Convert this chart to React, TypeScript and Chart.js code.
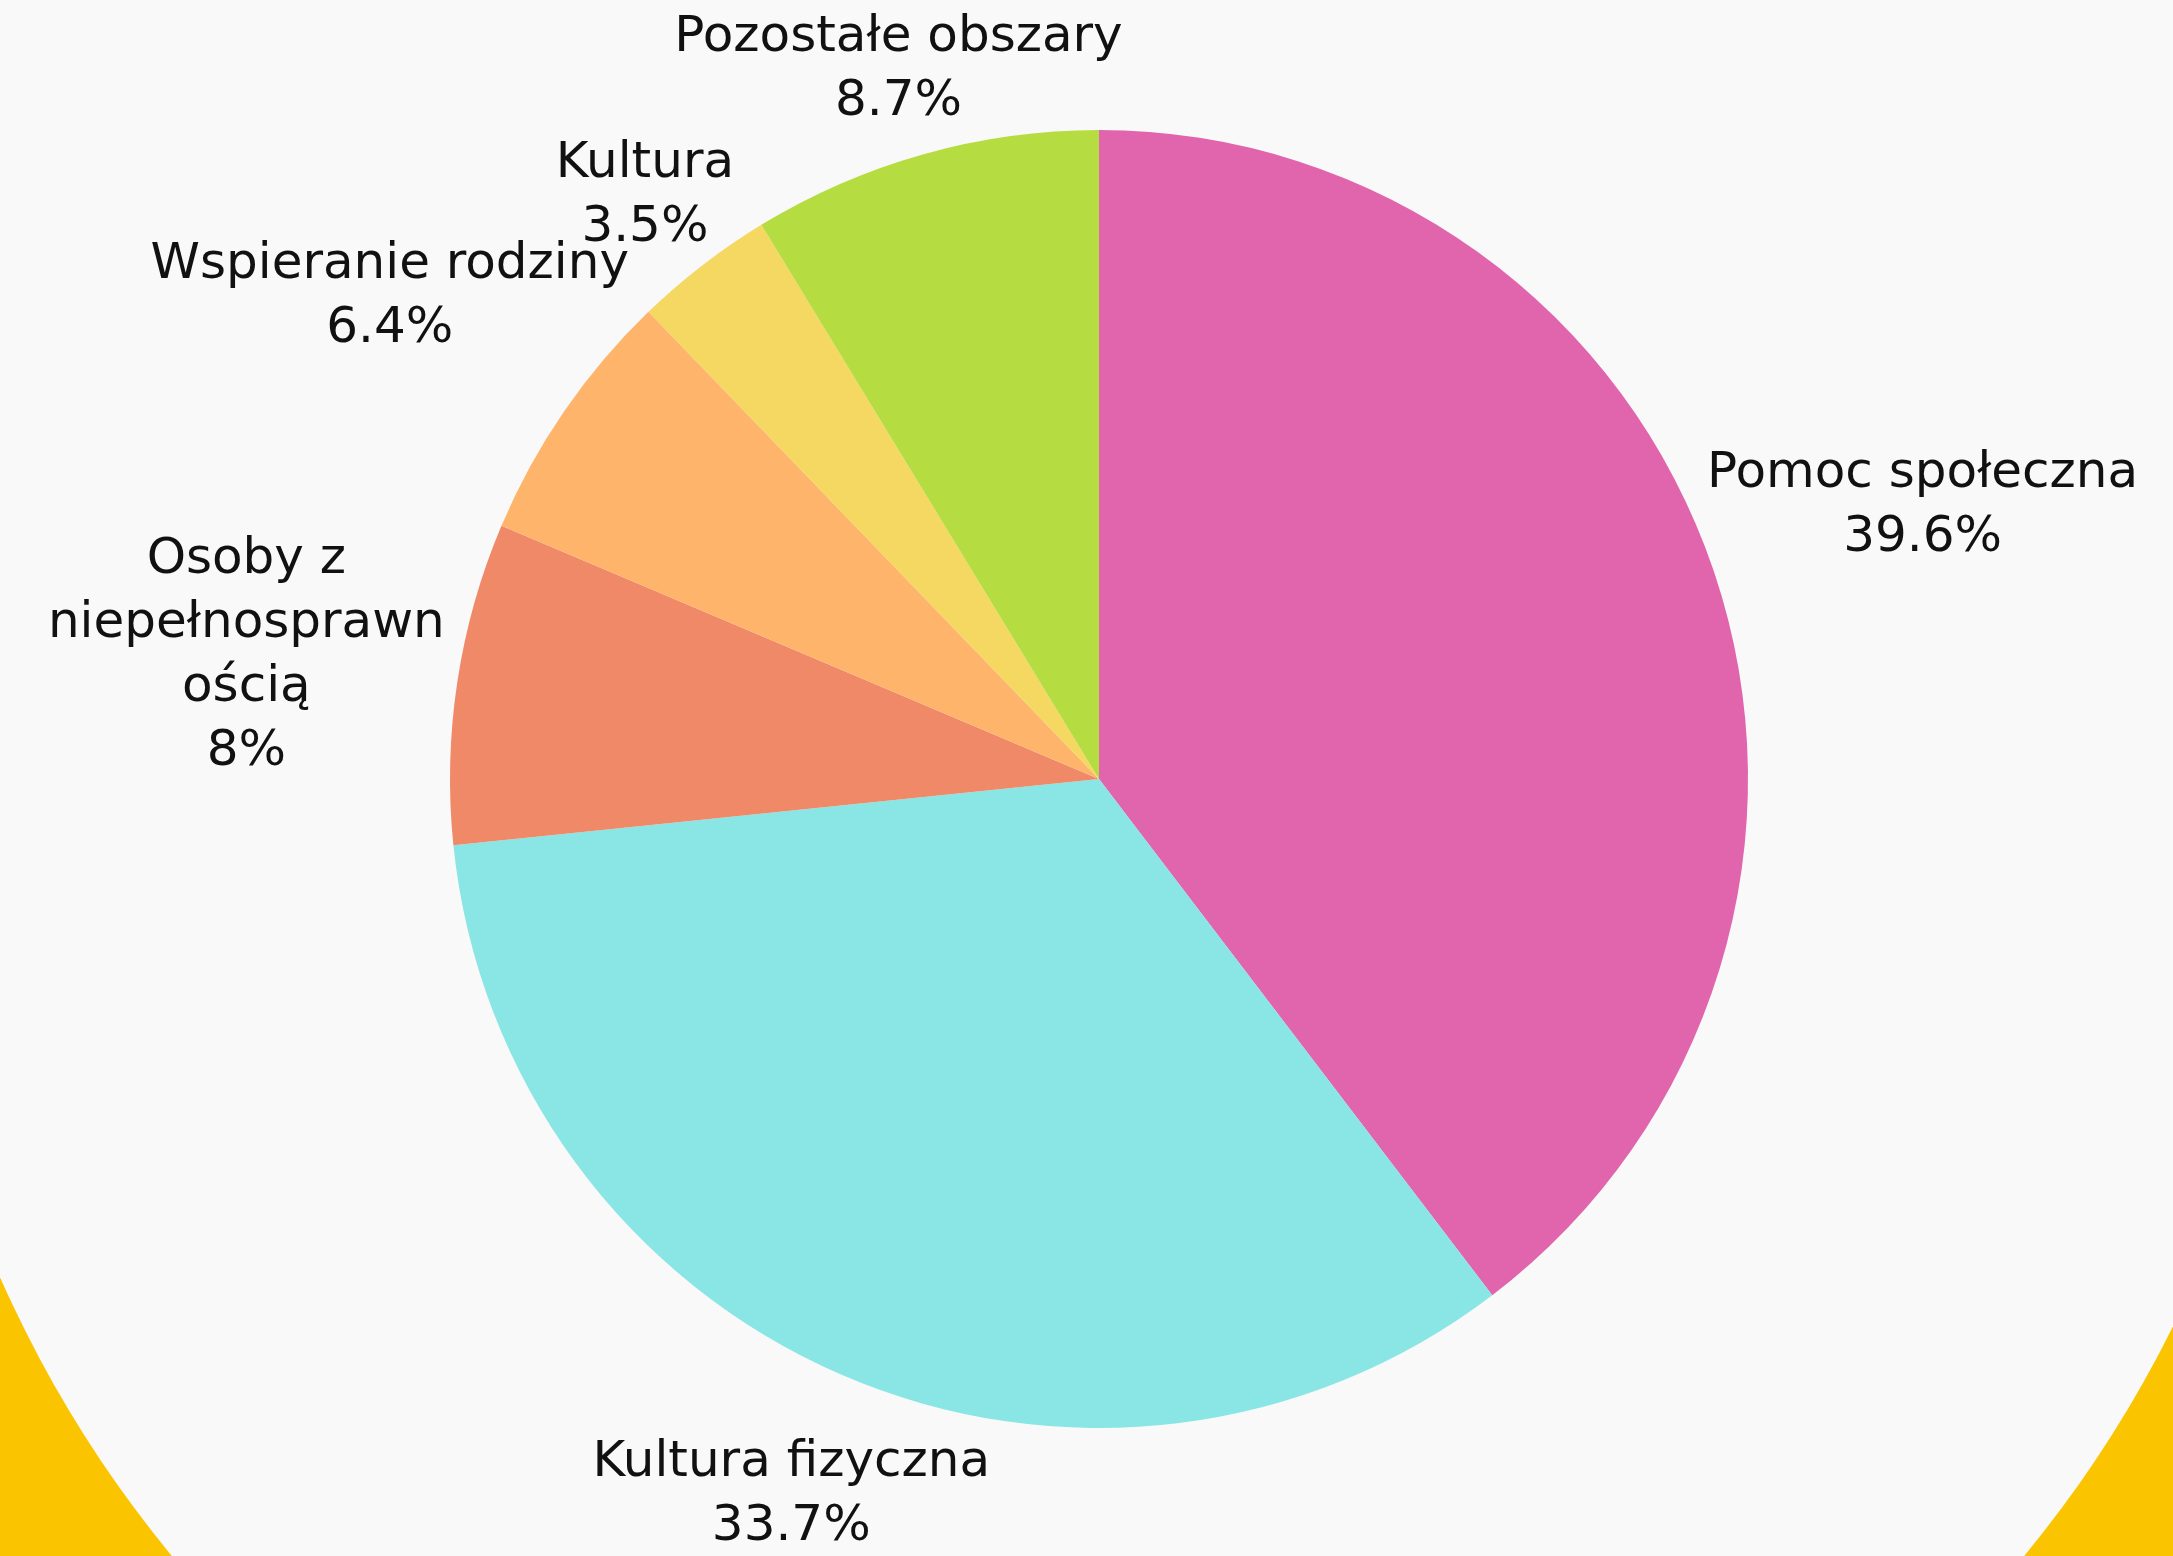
import React, { useEffect, useRef } from "react";
import { Chart, registerables } from "chart.js";

Chart.register(...registerables);

const categories: string[][] = [
  ["Pomoc społeczna"],
  ["Kultura fizyczna"],
  ["Osoby z", "niepełnosprawn", "ością"],
  ["Wspieranie rodziny"],
  ["Kultura"],
  ["Pozostałe obszary"],
];
const shares: number[] = [39.6, 33.7, 8, 6.4, 3.5, 8.7];
const sliceColors: string[] = ["#E065AD", "#8AE6E5", "#F08968", "#FFB46C", "#F5D862", "#B5DD41"];

const W = 2173;
const H = 1556;
const FONT_SIZE = 50;
const LINE_H = 64;
const FONT_FAMILY = "'DejaVu Sans', sans-serif";

const backgroundPlugin = {
  id: "bgCircle",
  beforeDraw(chart: any) {
    const ctx = chart.ctx;
    const cx = 1098;
    const cy = 793;
    ctx.save();
    ctx.fillStyle = "#FBC400";
    ctx.fillRect(0, 0, chart.width, chart.height);
    ctx.fillStyle = "#F9F9F9";
    ctx.fillRect(0, 0, chart.width, cy);
    ctx.beginPath();
    ctx.arc(cx, cy, 1200, 0, Math.PI * 2);
    ctx.fill();
    ctx.restore();
  },
};

const outsideLabels = {
  id: "outsideLabels",
  afterDatasetsDraw(chart: any) {
    const ctx = chart.ctx;
    const meta = chart.getDatasetMeta(0);
    ctx.save();
    ctx.font = `${FONT_SIZE}px ${FONT_FAMILY}`;
    const capH = FONT_SIZE * 0.73;
    const boxes: any[] = [];
    meta.data.forEach((arc: any, i: number) => {
      const p = arc.getProps(["x", "y", "startAngle", "endAngle", "outerRadius"], true);
      const mid = (p.startAngle + p.endAngle) / 2;
      const dx = Math.cos(mid);
      const dy = Math.sin(mid);
      const lines = [...categories[i], `${shares[i]}%`];
      const w = Math.max(...lines.map((l) => ctx.measureText(l).width));
      const h = capH + (lines.length - 1) * LINE_H;
      const ext = Math.abs(dx) * w / 2 + Math.abs(dy) * h / 2;
      const dist = p.outerRadius + ext;
      boxes.push({ lines, w, h, dx, dy, dist, ox: p.x, oy: p.y });
    });
    const pos = (b: any) => ({ cx: b.ox + b.dx * b.dist, cy: b.oy + b.dy * b.dist });
    const rect = (b: any) => {
      const { cx, cy } = pos(b);
      return { l: cx - b.w / 2, r: cx + b.w / 2, t: cy - b.h / 2, btm: cy + b.h / 2 };
    };
    const margin = 14;
    boxes.forEach((b) => {
      for (let k = 0; k < 200; k++) {
        const r = rect(b);
        if (r.t < margin || r.btm > H - margin || r.l < margin || r.r > W - margin) b.dist -= 1;
        else break;
      }
    });
    for (let iter = 0; iter < 3; iter++) {
      for (let i = 0; i < boxes.length; i++) {
        for (let j = i + 1; j < boxes.length; j++) {
          const a = boxes[i];
          const c = boxes[j];
          const mover = a.w * a.h > c.w * c.h ? a : c;
          for (let k = 0; k < 120; k++) {
            const ra = rect(a);
            const rc = rect(c);
            const ov = ra.l < rc.r && rc.l < ra.r && ra.t < rc.btm && rc.t < ra.btm;
            if (!ov) break;
            mover.dist -= 1;
          }
        }
      }
    }
    ctx.fillStyle = "#111111";
    ctx.textAlign = "center";
    ctx.textBaseline = "alphabetic";
    boxes.forEach((b) => {
      const { cx, cy } = pos(b);
      const top = cy - b.h / 2;
      b.lines.forEach((line: string, li: number) => {
        ctx.fillText(line, cx, top + capH + li * LINE_H);
      });
    });
    ctx.restore();
  },
};

export default function App() {
  const ref = useRef<HTMLCanvasElement>(null);
  useEffect(() => {
    document.body.style.margin = "0";
    const canvas = ref.current!;
    const chart = new Chart(canvas, {
      type: "pie",
      data: {
        labels: categories.map((c) => c.join("")),
        datasets: [
          {
            data: shares,
            backgroundColor: sliceColors,
            borderWidth: 0,
          },
        ],
      },
      options: {
        responsive: false,
        animation: false,
        devicePixelRatio: 1,
        layout: { padding: { left: 450, right: 425, top: 130, bottom: 128 } },
        plugins: {
          legend: { display: false },
          tooltip: { enabled: false },
        },
      },
      plugins: [backgroundPlugin, outsideLabels],
    });
    return () => chart.destroy();
  }, []);
  return (
    <div style={{ position: "fixed", left: 0, top: 0, width: W, height: H }}>
      <canvas ref={ref} width={W} height={H} style={{ width: W, height: H, display: "block" }} />
    </div>
  );
}
